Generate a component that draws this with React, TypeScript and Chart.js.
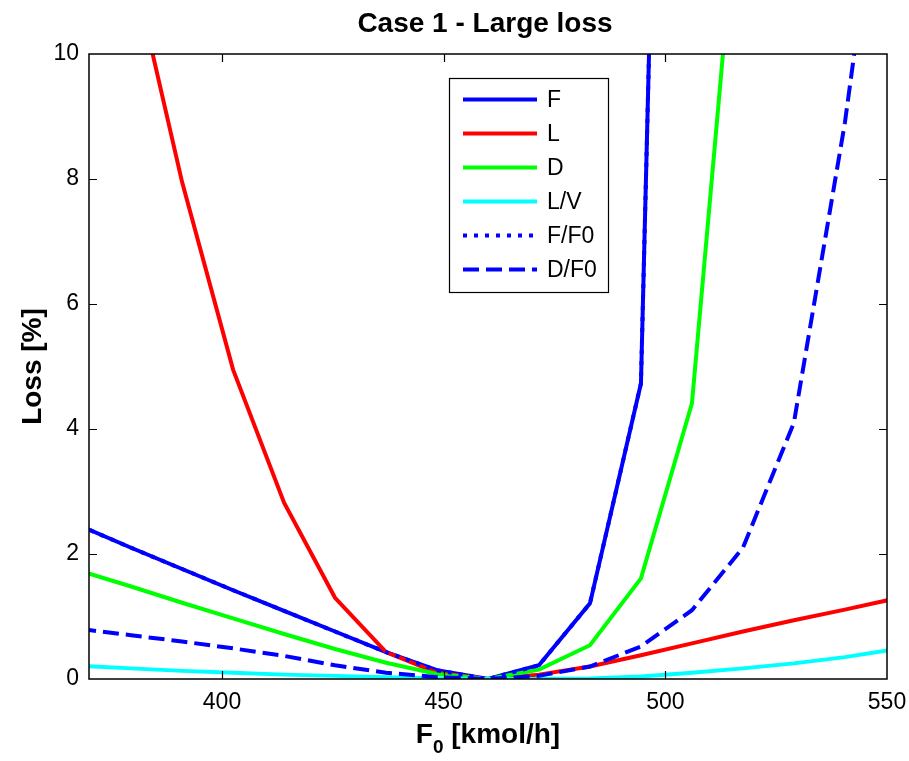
import { useEffect, useRef } from 'react';
import { Chart, registerables } from 'chart.js';

Chart.register(...registerables);

const chartTitle = 'Case 1 - Large loss';
const xTitleMain = 'F';
const xTitleSub = '0';
const xTitleRest = ' [kmol/h]';
const yTitle = 'Loss [%]';

const feedRates = [368, 379.5, 391, 402.5, 414, 425.5, 437, 448.5, 460, 471.5, 483, 494.5, 506, 517.5, 529, 540.5, 552];
const lossF = [2.45, 2.1, 1.76, 1.42, 1.09, 0.76, 0.43, 0.14, 0, 0.22, 1.21, 4.73, 38, null, null, null, null];
const lossL = [15.1, 11.5, 7.95, 4.95, 2.82, 1.3, 0.43, 0.1, 0, 0.07, 0.2, 0.38, 0.57, 0.76, 0.94, 1.11, 1.29];
const lossD = [1.73, 1.48, 1.22, 0.97, 0.72, 0.48, 0.26, 0.08, 0, 0.15, 0.54, 1.61, 4.41, 13.6, null, null, null];
const lossLV = [0.21, 0.17, 0.13, 0.1, 0.07, 0.05, 0.03, 0.01, 0, 0, 0.01, 0.04, 0.1, 0.17, 0.25, 0.35, 0.48];
const lossFF0 = [2.45, 2.1, 1.76, 1.42, 1.09, 0.76, 0.43, 0.14, 0, 0.22, 1.21, 4.73, 38, null, null, null, null];
const lossDF0 = [0.8, 0.7, 0.6, 0.49, 0.37, 0.22, 0.1, 0.03, 0, 0.05, 0.2, 0.52, 1.1, 2.1, 4.1, 8.9, 14.9];

const seriesNames = ['F', 'L', 'D', 'L/V', 'F/F0', 'D/F0'];
const seriesValues = [lossF, lossL, lossD, lossLV, lossFF0, lossDF0];
const seriesColors = ['#0000ff', '#ff0000', '#00ff00', '#00ffff', '#0000ff', '#0000ff'];
const seriesDashes: number[][] = [[], [], [], [], [4, 7], [16, 7]];

const xMin = 370;
const xMax = 550;
const yMin = 0;
const yMax = 10;
const xTickValues = [400, 450, 500, 550];
const yTickValues = [0, 2, 4, 6, 8, 10];

const FONT = '"Liberation Sans", Arial, Helvetica, sans-serif';

const decorPlugin = {
  id: 'decor',
  afterDatasetsDraw(chart: any) {
    const { ctx, chartArea, scales } = chart;
    const { left, right, top, bottom } = chartArea;
    const xs = scales.x;
    const ys = scales.y;
    ctx.save();
    // frame
    ctx.strokeStyle = '#000';
    ctx.lineWidth = 1.5;
    ctx.setLineDash([]);
    ctx.strokeRect(left, top, right - left, bottom - top);
    // inward ticks
    const tl = 8;
    ctx.beginPath();
    xTickValues.forEach((v) => {
      const px = Math.round(xs.getPixelForValue(v)) + 0.5;
      if (px > left + 1 && px < right - 1) {
        ctx.moveTo(px, bottom);
        ctx.lineTo(px, bottom - tl);
        ctx.moveTo(px, top);
        ctx.lineTo(px, top + tl);
      }
    });
    yTickValues.forEach((v) => {
      const py = Math.round(ys.getPixelForValue(v)) + 0.5;
      if (py > top + 1 && py < bottom - 1) {
        ctx.moveTo(left, py);
        ctx.lineTo(left + tl, py);
        ctx.moveTo(right, py);
        ctx.lineTo(right - tl, py);
      }
    });
    ctx.lineWidth = 1.2;
    ctx.stroke();

    // title
    ctx.fillStyle = '#000';
    ctx.textAlign = 'center';
    ctx.textBaseline = 'alphabetic';
    ctx.font = `bold 28px ${FONT}`;
    ctx.fillText(chartTitle, (left + right) / 2 - 3, 32);

    // y title
    ctx.save();
    ctx.translate(41, (top + bottom) / 2);
    ctx.rotate(-Math.PI / 2);
    ctx.textAlign = 'center';
    ctx.textBaseline = 'alphabetic';
    ctx.font = `bold 28px ${FONT}`;
    ctx.fillText(yTitle, 0, 0);
    ctx.restore();

    // x title with subscript
    const bigFont = `bold 28px ${FONT}`;
    const subFont = `bold 19px ${FONT}`;
    ctx.font = bigFont;
    const w1 = ctx.measureText(xTitleMain).width;
    const w3 = ctx.measureText(xTitleRest).width;
    ctx.font = subFont;
    const w2 = ctx.measureText(xTitleSub).width;
    const total = w1 + w2 + w3;
    let x0 = (left + right) / 2 - total / 2;
    const base = 743;
    ctx.textAlign = 'left';
    ctx.font = bigFont;
    ctx.fillText(xTitleMain, x0, base);
    x0 += w1;
    ctx.font = subFont;
    ctx.fillText(xTitleSub, x0, base + 10);
    x0 += w2;
    ctx.font = bigFont;
    ctx.fillText(xTitleRest, x0, base);

    // legend
    const lx = 449;
    const ly = 78;
    const lw = 159;
    const lh = 214;
    ctx.fillStyle = '#fff';
    ctx.fillRect(lx, ly, lw, lh);
    ctx.strokeStyle = '#000';
    ctx.lineWidth = 1.2;
    ctx.strokeRect(lx + 0.5, ly + 0.5, lw, lh);
    const rowY0 = 99.5;
    const rowStep = 34;
    ctx.font = `23px ${FONT}`;
    ctx.textBaseline = 'middle';
    seriesNames.forEach((name, i) => {
      const ry = rowY0 + i * rowStep;
      ctx.beginPath();
      ctx.strokeStyle = seriesColors[i];
      ctx.lineWidth = 4;
      ctx.setLineDash(seriesDashes[i]);
      ctx.moveTo(463, ry);
      ctx.lineTo(537, ry);
      ctx.stroke();
      ctx.setLineDash([]);
      ctx.fillStyle = '#000';
      ctx.textAlign = 'left';
      ctx.fillText(name, 547, ry + 1);
    });
    ctx.restore();
  },
};

export default function App() {
  const canvasRef = useRef<HTMLCanvasElement | null>(null);

  useEffect(() => {
    const canvas = canvasRef.current;
    if (!canvas) return;
    const datasets = seriesNames.map((name, i) => ({
      label: name,
      data: feedRates
        .map((x, j) => ({ x, y: seriesValues[i][j] }))
        .filter((p) => p.y !== null),
      borderColor: seriesColors[i],
      backgroundColor: seriesColors[i],
      borderWidth: 4,
      borderDash: seriesDashes[i],
      pointRadius: 0,
      pointHoverRadius: 0,
      fill: false,
      tension: 0,
      clip: 0,
      order: seriesNames.length - i,
    }));

    const chart = new Chart(canvas, {
      type: 'line',
      data: { datasets },
      options: {
        responsive: false,
        animation: false,
        events: [],
        layout: { padding: { top: 54, left: 0, right: 22, bottom: 0 } },
        plugins: {
          legend: { display: false },
          title: { display: false },
          tooltip: { enabled: false },
        },
        scales: {
          x: {
            type: 'linear',
            min: xMin,
            max: xMax,
            offset: false,
            grid: { display: false, drawTicks: false },
            border: { display: false },
            ticks: {
              autoSkip: false,
              maxRotation: 0,
              padding: 10,
              color: '#000',
              font: { family: FONT, size: 23 },
              callback: (v: any) => String(v),
            },
            afterBuildTicks: (s: any) => {
              s.ticks = xTickValues.map((v) => ({ value: v }));
            },
            afterFit: (s: any) => {
              s.height = 82;
              s.paddingLeft = 0;
              s.paddingRight = 0;
            },
          },
          y: {
            type: 'linear',
            min: yMin,
            max: yMax,
            grid: { display: false, drawTicks: false },
            border: { display: false },
            ticks: {
              autoSkip: false,
              padding: 10,
              color: '#000',
              font: { family: FONT, size: 23 },
              callback: (v: any) => String(v),
            },
            afterBuildTicks: (s: any) => {
              s.ticks = yTickValues.map((v) => ({ value: v }));
            },
            afterFit: (s: any) => {
              s.width = 89;
              s.paddingTop = 0;
              s.paddingBottom = 0;
            },
          },
        },
      },
      plugins: [decorPlugin],
    });
    return () => chart.destroy();
  }, []);

  return (
    <div style={{ position: 'fixed', left: 0, top: 0, width: 909, height: 761, background: '#fff' }}>
      <canvas ref={canvasRef} width={909} height={761} style={{ display: 'block' }} />
    </div>
  );
}
